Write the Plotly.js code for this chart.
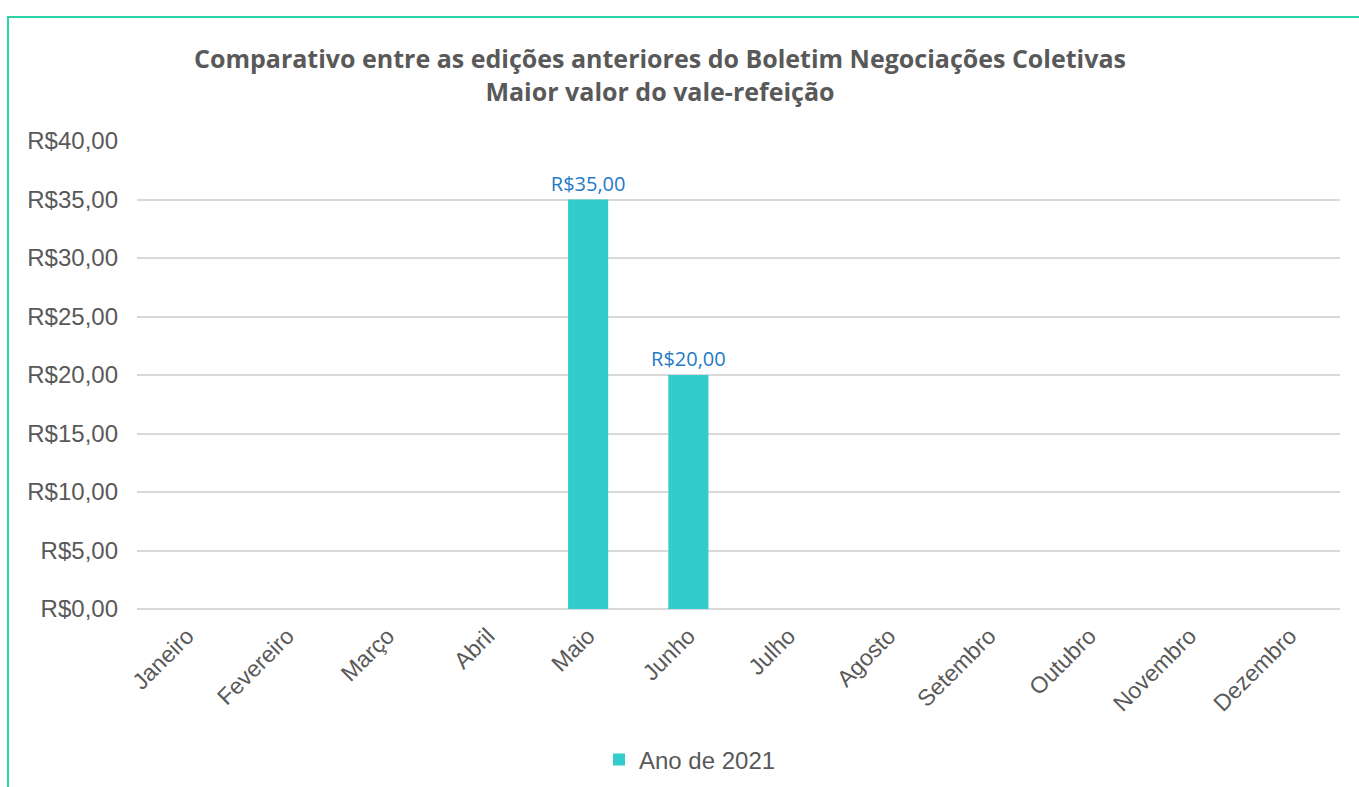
<!DOCTYPE html>
<html>
<head>
<meta charset="utf-8">
<script src="https://cdn.plot.ly/plotly-3.0.1.min.js"></script>
<style>
  html, body { margin: 0; padding: 0; background: #ffffff; overflow: hidden; }
  #wrap { position: relative; width: 1359px; height: 787px; }
  #chart { position: absolute; left: 0; top: 0; width: 1359px; height: 787px; }
  #frame { position: absolute; left: 7px; top: 16px; width: 1400px; height: 800px;
           border: 2px solid #2CD3A6; pointer-events: none; box-sizing: border-box; }
</style>
</head>
<body>
<div id="wrap">
  <div id="chart"></div>
  <div id="frame"></div>
</div>
<script>
const months = ["Janeiro", "Fevereiro", "Março", "Abril", "Maio", "Junho",
                "Julho", "Agosto", "Setembro", "Outubro", "Novembro", "Dezembro"];
const valores2021 = [null, null, null, null, 35, 20, null, null, null, null, null, null];
const seriesName = "Ano de 2021";
const titleLines = ["Comparativo entre as edições anteriores do Boletim Negociações Coletivas",
                    "Maior valor do vale-refeição"];

const trace = {
  type: "bar",
  x: months,
  y: valores2021,
  name: seriesName,
  marker: { color: "#33CCCC" },
  texttemplate: "R$%{y:.2f}",
  textposition: "outside",
  constraintext: "none",
  cliponaxis: false,
  textfont: { family: "Open Sans, Noto Sans, sans-serif", size: 20, color: "#1F7AC8" },
  hoverinfo: "x+y"
};

const layout = {
  width: 1359,
  height: 787,
  separators: ",.",
  paper_bgcolor: "#ffffff",
  plot_bgcolor: "#ffffff",
  margin: { l: 137, r: 19, t: 141, b: 178 },
  bargap: 0.6,
  showlegend: true,
  title: {
    text: "<b>" + titleLines.join("<br>") + "</b>",
    font: { family: "Open Sans, Noto Sans, sans-serif", size: 25, color: "#595959" },
    x: 660 / 1359,
    xanchor: "center",
    xref: "container",
    y: 1 - 68 / 787,
    yanchor: "middle",
    yref: "container"
  },
  xaxis: {
    type: "category",
    tickangle: -45,
    tickfont: { family: "Liberation Sans, Arial, sans-serif", size: 23, color: "#595959" },
    showgrid: false,
    showline: false,
    ticks: "",
    ticklabelstandoff: 8,
    fixedrange: true
  },
  yaxis: {
    range: [0, 40],
    dtick: 5,
    tickprefix: "R$",
    tickformat: ".2f",
    tickfont: { family: "Liberation Sans, Arial, sans-serif", size: 24, color: "#595959" },
    gridcolor: "#D9D9D9",
    gridwidth: 2,
    zeroline: true,
    zerolinecolor: "#D9D9D9",
    zerolinewidth: 2,
    showline: false,
    ticks: "",
    ticklabelstandoff: 18,
    fixedrange: true
  },
  legend: {
    orientation: "h",
    xref: "container",
    yref: "container",
    x: 690 / 1359,
    xanchor: "center",
    y: 1 - 760 / 787,
    yanchor: "middle",
    font: { family: "Liberation Sans, Arial, sans-serif", size: 24, color: "#595959" },
    itemwidth: 30
  }
};

Plotly.newPlot("chart", [trace], layout, { displayModeBar: false });
</script>
</body>
</html>
